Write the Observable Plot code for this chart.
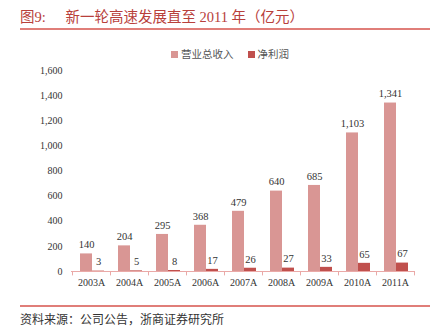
<!DOCTYPE html>
<html><head><meta charset="utf-8">
<script src="https://cdn.jsdelivr.net/npm/d3@7"></script>
<script src="https://cdn.jsdelivr.net/npm/@observablehq/plot@0.6"></script>
<style>
body{margin:0;width:430px;height:326px;position:relative;background:#fff;overflow:hidden;font-family:"Liberation Serif","Noto Sans CJK SC",serif;}
#title{position:absolute;left:20px;top:5px;font-size:14.5px;color:#b8403b;font-family:"Liberation Serif","Noto Sans CJK SC",serif;white-space:nowrap;}
#title .n{margin-right:16px;}
#topline{position:absolute;left:20px;right:0;top:28px;height:2px;background:#e07e79;}
#legend{position:absolute;left:171px;top:46px;font-size:10.5px;color:#555;font-family:"Noto Sans CJK SC",sans-serif;white-space:nowrap;}
#legend span.sw{display:inline-block;width:7px;height:7px;margin-right:3px;vertical-align:0px;}
#chart{position:absolute;left:0;top:40px;}
#botline{position:absolute;left:20px;right:0;top:305px;height:2px;background:#e07e79;}
#src{position:absolute;left:20px;top:310px;font-size:12px;color:#333;font-family:"Noto Sans CJK SC",sans-serif;white-space:nowrap;}
</style>
</head><body>
<div id="title"><span class="n">图9:</span> 新一轮高速发展直至 2011 年（亿元）</div>
<div id="topline"></div>
<div id="legend"></div>
<div id="chart"></div>
<div id="botline"></div>
<div id="src">资料来源：公司公告，浙商证券研究所</div>
<script>
const years = ["2003A","2004A","2005A","2006A","2007A","2008A","2009A","2010A","2011A"];
const revenue = [140,204,295,368,479,640,685,1103,1341];
const profit = [3,5,8,17,26,27,33,65,67];
const seriesNames = ["营业总收入","净利润"];
const seriesColors = ["#d99694","#c0504d"];
const yTicks = [0,200,400,600,800,1000,1200,1400,1600];

const rev = years.map((y,i)=>({year:y, value:revenue[i]}));
const pro = years.map((y,i)=>({year:y, value:profit[i]}));

const leg = document.getElementById("legend");
leg.innerHTML = seriesNames.map((n,i)=>`<span style="margin-right:${i==0?14:0}px"><span class="sw" style="background:${seriesColors[i]}"></span>${n}</span>`).join("");

const fmt = d3.format(",");
const chart = Plot.plot({
  width: 430, height: 260,
  marginLeft: 71, marginRight: 15, marginTop: 30, marginBottom: 29,
  style: {fontFamily: "'Liberation Serif', serif", fontSize: "10px", color: "#333", background: "transparent"},
  x: {domain: years, padding: 0, label: null, tickSize: 0, tickPadding: 7},
  y: {domain: [0,1600], ticks: yTicks, tickFormat: fmt, label: null, tickSize: 0, tickPadding: 9},
  marks: [
    Plot.barY(rev, {x: "year", y: "value", fill: seriesColors[0], insetLeft: 8, insetRight: 18}),
    Plot.barY(pro, {x: "year", y: "value", fill: seriesColors[1], insetLeft: 20, insetRight: 6}),
    Plot.ruleY([0], {stroke: "#eaa9a7", strokeWidth: 1.2}),
    Plot.ruleX(years, {x: d=>d, dx: -19, y1: 0, y2: -35, stroke: "#eaa9a7"}),
    Plot.ruleX([years[years.length-1]], {x: d=>d, dx: 19, y1: 0, y2: -35, stroke: "#eaa9a7"}),
    Plot.text(rev, {x: "year", y: "value", text: d=>fmt(d.value), dx: -5, dy: -9, fontSize: 10.5, fill: "#333"}),
    Plot.text(pro, {x: "year", y: "value", text: d=>fmt(d.value), dx: 7, dy: -9, fontSize: 10.5, fill: "#333"})
  ]
});
document.getElementById("chart").appendChild(chart);
</script>
</body></html>
